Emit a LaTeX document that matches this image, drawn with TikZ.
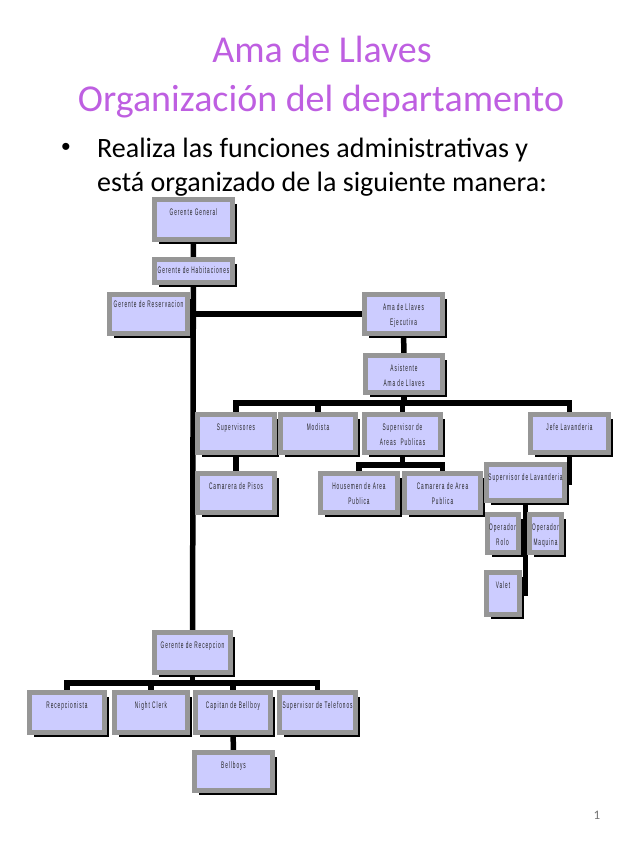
\documentclass[tikz,border=0pt]{standalone}
\usepackage{fontspec}
\setmainfont{Carlito}
\newfontfamily\orgfont[FakeStretch=0.5,LetterSpace=10]{Liberation Sans}
\newfontfamily\dotfont{Liberation Sans}
\usetikzlibrary{positioning,calc,shadows,backgrounds}
\definecolor{titlepurple}{RGB}{190,95,225}
\definecolor{boxfill}{RGB}{204,204,255}
\definecolor{boxgrey}{RGB}{150,150,150}
\definecolor{pagegrey}{gray}{0.45}
\definecolor{orgtext}{gray}{0.15}
\tikzset{
  obox/.style={draw=boxgrey,line width=5pt,fill=boxfill,inner sep=0pt,
               drop shadow={shadow xshift=4.5pt,shadow yshift=-4.5pt,fill=black,opacity=1}},
  olbl/.style={anchor=north,yshift=-11pt,align=center,inner sep=0pt,text=orgtext,
               font=\orgfont\fontsize{9.5}{15}\selectfont},
  conn/.style={line width=5.5pt,black},
  ttl/.style={anchor=base,text=titlepurple,font=\fontsize{38}{44}\selectfont,inner sep=0pt},
  bul/.style={anchor=base west,font=\fontsize{28}{34}\selectfont,inner sep=0pt},
}

\begin{document}
\begin{tikzpicture}[x=1pt,y=-1pt,
  pnum/.style={font=\fontsize{13}{15}\selectfont,text=pagegrey,inner sep=0pt}]

\useasboundingbox (0,0) rectangle (638,851);

% ------------------------------------------------ heading
\node[ttl] (t1) at (322,63) {Ama de Llaves};
\node[ttl] (t2) at (321,111) {Organización del departamento};
\node[bul,anchor=base,font=\dotfont\fontsize{26}{30}\selectfont] (dot) at (66,155) {•};
\node[bul] (b1) at (97,157) {Realiza las funciones administrativas y};
\node[bul] (b2) at (97,191) {está organizado de la siguiente manera:};
\node[pnum] (pg) at (597,815) {1};

% ------------------------------------------------ upper chain
\node[obox,minimum width=78pt,minimum height=40pt,label={[olbl]north:Gerente General}] (gg) at (193.5,219.5) {};
\node[obox,minimum width=78pt,minimum height=23pt,label={[olbl,yshift=2pt]north:Gerente de Habitaciones}] (gh) at (193.5,271) {};
\node[obox,minimum width=78pt,minimum height=39pt,label={[olbl,yshift=3pt]north:Gerente de Reservacion}] (gres) at (148.5,314) {};
\node[obox,minimum width=78pt,minimum height=39pt,label={[olbl]north:Ama de Llaves\\Ejecutiva}] (ama) at (403.5,314) {};
\node[obox,minimum width=77pt,minimum height=37pt,label={[olbl]north:Asistente\\Ama de Llaves}] (asis) at (404,374) {};

% ------------------------------------------------ housekeeping rows
\foreach \nm/\x/\w/\t in {sup/236/77/Supervisores, mod/318/75/Modista,
  sap/402.5/76/{Supervisor de\\Areas \ Publicas}, jefe/569.5/78/Jefe Lavanderia}
  {\node[obox,minimum width=\w pt,minimum height=38pt,label={[olbl]north:\t}] (\nm) at (\x,433.5) {};}
\foreach \nm/\x/\w/\t in {camp/236/77/Camarera de Pisos,
  hou/359/77/{Housemen de Area\\Publica}, cama/442.5/76/{Camarera de Area\\Publica}}
  {\node[obox,minimum width=\w pt,minimum height=39pt,label={[olbl]north:\t}] (\nm) at (\x,493) {};}

% ------------------------------------------------ laundry
\node[obox,minimum width=78pt,minimum height=36pt,label={[olbl]north:Supervisor de Lavanderia}] (suplav) at (525.5,482.5) {};
\node[obox,minimum width=31pt,minimum height=38pt,label={[olbl]north:Operador\\Rolo}] (oprolo) at (502.5,533.5) {};
\node[obox,minimum width=32pt,minimum height=38pt,label={[olbl]north:Operador\\Maquina}] (opmaq) at (545.5,533.5) {};
\node[obox,minimum width=33pt,minimum height=42pt,label={[olbl]north:Valet}] (valet) at (503,593.5) {};

% ------------------------------------------------ front desk
\node[obox,minimum width=76pt,minimum height=40pt,label={[olbl]north:Gerente de Recepcion}] (gr) at (192.5,652.5) {};
\foreach \nm/\x/\w/\t in {rec/67/75/Recepcionista, nc/151/73/Night Clerk,
  capb/233/75/Capitan de Bellboy, tel/317.5/76/Supervisor de Telefonos}
  {\node[obox,minimum width=\w pt,minimum height=40pt,label={[olbl]north:\t}] (\nm) at (\x,712.5) {};}
\node[obox,minimum width=78pt,minimum height=38pt,label={[olbl]north:Bellboys}] (bell) at (233.5,771.5) {};

% ------------------------------------------------ connectors
\begin{scope}[on background layer]
\draw[conn] (gg) -- (gr);
\draw[conn] (gh) |- (ama);
\draw[conn] (gres) -- (gres -| gh);
\draw[conn] (ama) -- (asis);
\coordinate (busA) at ($(asis.south)+(0,8)$);
\draw[conn] (asis) -- (busA);
\foreach \b in {sup,mod,sap,jefe} \draw[conn] (busA) -| (\b);
\draw[conn] (sup) -- (camp);
\coordinate (busB) at ($(sap.south)+(0,10)$);
\draw[conn] (sap) -- (busB);
\foreach \b in {hou,cama} \draw[conn] (busB) -| (\b);
\draw[conn] (jefe) |- (suplav);
\draw[conn] (suplav) |- (oprolo);
\draw[conn] (suplav) |- (opmaq);
\draw[conn] (suplav) |- (valet);
\coordinate (busC) at ($(gr.south)+(0,8)$);
\draw[conn] (gr) -- (busC);
\foreach \b in {rec,nc,capb,tel} \draw[conn] (busC) -| (\b);
\draw[conn] (capb) -- (bell);
\end{scope}

\end{tikzpicture}
\end{document}
